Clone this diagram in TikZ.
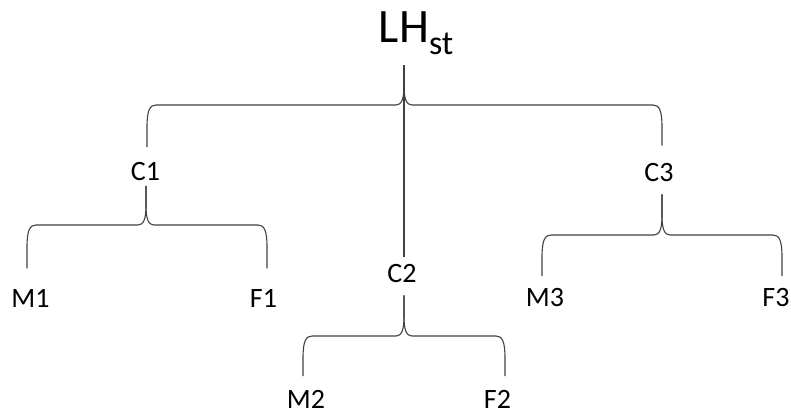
\documentclass[tikz,border=0pt]{standalone}
\usepackage{fontspec}
\setmainfont{Carlito}
\usetikzlibrary{calc}

% half of a curly brace: from the parent's tip down to one child
% #1 extra options, #2 parent, #3 x shift at the parent, #4 child,
% #5 x shift at the child, #6 level of the bar, #7 side (1 right, -1 left)
\newcommand\halfbrace[7][]{%
  \draw[bracestyle,#1] let \p1=($(#2.south)+(#3,0)$), \p2=($(#4.north)+(#5,0)$),
      \p3=(#6), \n1={#7} in
    (\p1) -- (\x1,{\y3+19pt})
    .. controls (\x1,{\y3+6pt}) and ({\x1+(\n1)*2.5pt},\y3) .. ({\x1+(\n1)*8pt},\y3)
    -- ({\x2-(\n1)*9pt},\y3)
    .. controls ({\x2-(\n1)*3pt},\y3) and (\x2,{\y3-5pt}) .. (\x2,{\y3-22pt})
    -- (\p2);}

\begin{document}
\begin{tikzpicture}[x=1pt,y=-1pt,
  bracestyle/.style={draw=black!75,line width=1.1pt},
  person/.style={inner sep=0pt,font=\fontsize{28}{28}\selectfont}]
\useasboundingbox (0,0) rectangle (791,414);

% the household and its three couples
\node[inner sep=0pt,anchor=base,text depth=0pt,font=\fontsize{48}{48}\selectfont]
  (LH) at (404,43) {LH\rlap{\fontsize{34}{34}\selectfont\raisebox{-12pt}{st}}};
\node[person] (C1) at (145.5,172) {C1};
\node[person] (C2) at (402,273.5) {C2};
\node[person] (C3) at (659,172.5) {C3};

% members of each couple
\node[person] (M1) at (30.5,298) {M1};
\node[person] (F1) at (263.5,298) {F1};
\node[person] (M2) at (306,399.5) {M2};
\node[person] (F2) at (497.5,399.5) {F2};
\node[person] (M3) at (545,298) {M3};
\node[person] (F3) at (776,298) {F3};

% bar levels of the braces
\coordinate (top) at (0,105);
\coordinate (lvA) at (0,225);
\coordinate (lvB) at (0,336);
\coordinate (lvC) at (0,235);

% household brace, with its stem running on to C2
\halfbrace[shorten <=22pt,shorten >=15.5pt]{LH}{0}{C1}{1.5}{top}{-1}
\halfbrace[shorten <=22pt,shorten >=17.5pt]{LH}{0}{C3}{3}{top}{1}
\draw[bracestyle,shorten <=22pt,shorten >=7.5pt] (LH.south) -- (LH.south |- C2.north);

% couple braces
\halfbrace[shorten <=4.5pt,shorten >=20.5pt]{C1}{0.5}{M1}{-3.5}{lvA}{-1}
\halfbrace[shorten <=4.5pt,shorten >=20.5pt]{C1}{0.5}{F1}{3.5}{lvA}{1}
\halfbrace[shorten <=12.5pt,shorten >=14pt]{C2}{2}{M2}{-3}{lvB}{-1}
\halfbrace[shorten <=12.5pt,shorten >=14pt]{C2}{2}{F2}{7.5}{lvB}{1}
\halfbrace[shorten <=12.5pt,shorten >=12.5pt]{C3}{3}{M3}{-3}{lvC}{-1}
\halfbrace[shorten <=12.5pt,shorten >=12.5pt]{C3}{3}{F3}{6}{lvC}{1}
\end{tikzpicture}
\end{document}
